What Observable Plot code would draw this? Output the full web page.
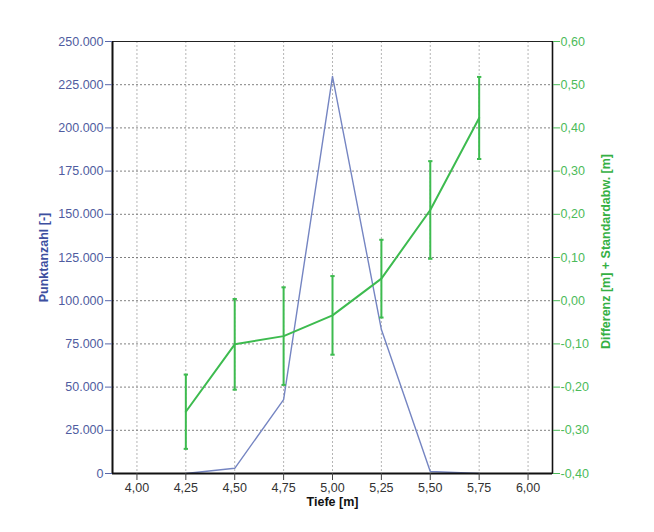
<!DOCTYPE html>
<html>
<head>
<meta charset="utf-8">
<script src="https://cdn.jsdelivr.net/npm/d3@7"></script>
<script src="https://cdn.jsdelivr.net/npm/@observablehq/plot@0.6"></script>
<style>
  html, body { margin: 0; padding: 0; background: #fff; }
  #chart svg { display: block; }
</style>
</head>
<body>
<div id="chart"></div>
<script>
// ---- data ----
const depths = [4.25, 4.50, 4.75, 5.00, 5.25, 5.50, 5.75];
const pointCounts = [0, 3000, 42800, 229800, 83300, 1200, 0];
const diffs = [-0.257, -0.101, -0.082, -0.034, 0.051, 0.210, 0.423];
const stdDevs = [0.086, 0.105, 0.113, 0.091, 0.090, 0.113, 0.095];

const xTicks = [4.00, 4.25, 4.50, 4.75, 5.00, 5.25, 5.50, 5.75, 6.00];
const leftTicks = [0, 25000, 50000, 75000, 100000, 125000, 150000, 175000, 200000, 225000, 250000];
const rightTicks = [-0.4, -0.3, -0.2, -0.1, 0.0, 0.1, 0.2, 0.3, 0.4, 0.5, 0.6];

const xTitle = "Tiefe [m]";
const leftTitle = "Punktanzahl [-]";
const rightTitle = "Differenz [m] + Standardabw. [m]";

// ---- helpers ----
const de = d3.formatLocale({decimal: ",", thousands: ".", grouping: [3], currency: ["", " €"], minus: "-"});
const fmtCount = de.format(",d");
const fmt2 = de.format(".2f");

const leftMax = 250000;
const rMin = -0.4, rMax = 0.6;
const toLeft = v => (v - rMin) / (rMax - rMin) * leftMax;

const counts = depths.map((d, i) => ({depth: d, count: pointCounts[i]}));
const diffRows = depths.map((d, i) => ({depth: d, diff: diffs[i], sd: stdDevs[i]}));

const BLUE_LINE = "#7585c2";
const BLUE_TEXT = "#4f5ca0";
const BLUE_TITLE = "#3d4f9f";
const GREEN = "#3dbb4f";
const GREEN_TEXT = "#4cbb5a";
const GREEN_TITLE = "#35b043";
const capHalf = 0.011;

const chart = Plot.plot({
  width: 654,
  height: 532,
  marginLeft: 112,
  marginRight: 102,
  marginTop: 41,
  marginBottom: 59,
  style: {fontFamily: "'Liberation Sans', Arial, sans-serif", fontSize: "12.5px", background: "#fff"},
  x: {domain: [3.875, 6.125], axis: null},
  y: {domain: [0, leftMax], axis: null},
  marks: [
    Plot.gridX(xTicks, {stroke: "#b5b5b5", strokeOpacity: 1, strokeDasharray: "2,2"}),
    Plot.gridY(leftTicks, {stroke: "#808080", strokeOpacity: 1, strokeDasharray: "2,2"}),
    Plot.frame({stroke: "#222", strokeWidth: 1}),
    // Punktanzahl (left axis)
    Plot.line(counts, {x: "depth", y: "count", stroke: BLUE_LINE, strokeWidth: 1.4}),
    // Differenz with std-dev error bars (right axis)
    Plot.ruleX(diffRows, {x: "depth", y1: d => toLeft(d.diff - d.sd), y2: d => toLeft(d.diff + d.sd), stroke: GREEN, strokeWidth: 2}),
    Plot.link(diffRows, {x1: d => d.depth - capHalf, x2: d => d.depth + capHalf, y1: d => toLeft(d.diff + d.sd), y2: d => toLeft(d.diff + d.sd), stroke: GREEN, strokeWidth: 2}),
    Plot.link(diffRows, {x1: d => d.depth - capHalf, x2: d => d.depth + capHalf, y1: d => toLeft(d.diff - d.sd), y2: d => toLeft(d.diff - d.sd), stroke: GREEN, strokeWidth: 2}),
    Plot.line(diffRows, {x: "depth", y: d => toLeft(d.diff), stroke: GREEN, strokeWidth: 2}),
    // axis lines
    Plot.ruleX([3.875], {stroke: "#111", strokeWidth: 2}),
    Plot.ruleX([6.125], {stroke: "#111", strokeWidth: 1.6}),
    Plot.ruleY([0], {stroke: "#111", strokeWidth: 2}),
    // axes
    Plot.axisX(xTicks, {tickFormat: fmt2, tickSize: 7, tickPadding: 3, stroke: "#444", fill: "#333", label: null}),
    Plot.axisY(leftTicks, {anchor: "left", tickFormat: fmtCount, tickSize: 7, tickPadding: 2, stroke: "#5a68a8", fill: BLUE_TEXT, label: null}),
    Plot.axisY(rightTicks.map(toLeft), {anchor: "right", tickFormat: v => fmt2(rMin + v / leftMax * (rMax - rMin)), tickSize: 7, tickPadding: 1, stroke: GREEN_TEXT, fill: GREEN_TEXT, label: null}),
    // axis titles
    Plot.text([xTitle], {frameAnchor: "bottom", text: d => d, dy: 32, fontWeight: "bold", fontSize: 12.5, fill: "#111"}),
    Plot.text([leftTitle], {frameAnchor: "left", text: d => d, rotate: -90, textAnchor: "middle", dx: -69, fontWeight: "bold", fontSize: 12.5, fill: BLUE_TITLE}),
    Plot.text([rightTitle], {frameAnchor: "right", text: d => d, rotate: -90, textAnchor: "middle", dx: 53, dy: -6, fontWeight: "bold", fontSize: 12.5, fill: GREEN_TITLE})
  ]
});

document.getElementById("chart").appendChild(chart);
</script>
</body>
</html>
